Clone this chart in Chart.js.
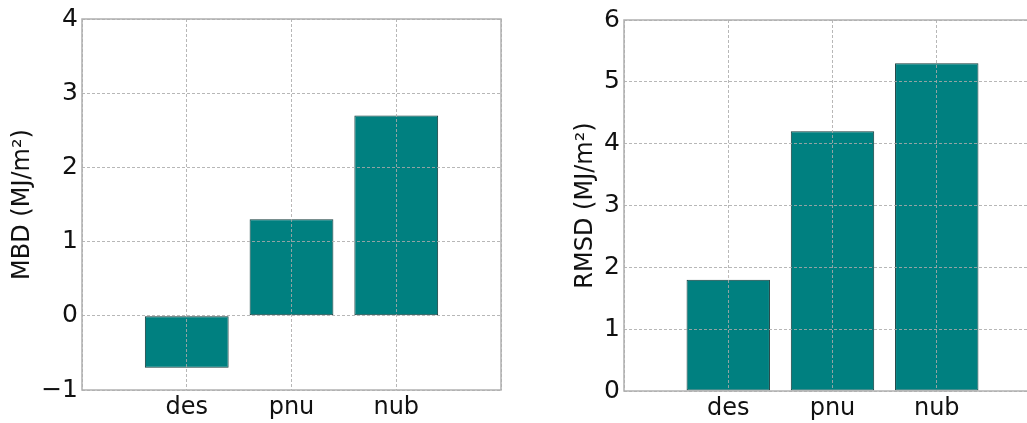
<!DOCTYPE html>
<html>
<head>
<meta charset="utf-8">
<script src="https://cdn.jsdelivr.net/npm/chart.js@4.4.0/dist/chart.umd.min.js"></script>
<style>
  html, body { margin: 0; padding: 0; background: #fff; }
  body { width: 1027px; height: 423px; overflow: hidden; position: relative; }
  .box { position: absolute; top: 0; height: 423px; }
  #leftBox { left: 0; width: 510px; }
  #rightBox { left: 560px; width: 490px; }
</style>
</head>
<body>
<div class="box" id="leftBox"><canvas id="mbdChart"></canvas></div>
<div class="box" id="rightBox"><canvas id="rmsdChart"></canvas></div>
<script>
// data
var categories = ["des", "pnu", "nub"];
var mbdValues = [-0.7, 1.3, 2.7];
var rmsdValues = [1.8, 4.2, 5.3];
var mbdTicks = [-1, 0, 1, 2, 3, 4];
var rmsdTicks = [0, 1, 2, 3, 4, 5, 6];

var barColor = "#008080";
var gridColor = "rgba(170,170,170,0.85)";
var spineColor = "#b0b0b0";
var fontFamily = "'DejaVu Sans', sans-serif";

// empty slot on each side so bars sit one unit in from the frame
var labels = [""].concat(categories, [""]);
function padded(vals) { return [null].concat(vals, [null]); }

// draws the four spines
var frame = {
    id: "frame",
    afterDraw: function(chart) {
        var a = chart.chartArea, ctx = chart.ctx;
        ctx.save();
        ctx.setLineDash([]);
        ctx.strokeStyle = spineColor;
        ctx.lineWidth = 1.5;
        ctx.strokeRect(a.left, a.top, a.right - a.left, a.bottom - a.top);
        ctx.restore();
    }
};

function makeChart(id, values, ticks, title, opt) {
    return new Chart(id, {
        type: "bar",
        data: {
            labels: labels,
            datasets: [{
                data: padded(values),
                backgroundColor: barColor,
                borderColor: "#123a3a",
                borderWidth: 1,
                borderSkipped: false,
                barPercentage: 0.8,
                categoryPercentage: 1
            }]
        },
        options: {
            responsive: true,
            maintainAspectRatio: false,
            animation: false,
            layout: { padding: { top: opt.top, right: 9, left: 0, bottom: 0 } },
            plugins: { legend: { display: false }, tooltip: { enabled: false } },
            scales: {
                x: {
                    offset: false,
                    grid: { offset: false, z: 1, color: gridColor, drawTicks: false, lineWidth: 1 },
                    border: { display: false, dash: [3, 2] },
                    ticks: {
                        color: "#111",
                        padding: 3,
                        maxRotation: 0,
                        font: { family: fontFamily, size: 24 }
                    },
                    afterFit: function(s) { s.height = opt.xh; }
                },
                y: {
                    min: ticks[0],
                    max: ticks[ticks.length - 1],
                    afterBuildTicks: function(s) {
                        s.ticks = ticks.map(function(v) { return { value: v }; });
                    },
                    grid: { z: 1, color: gridColor, drawTicks: false, lineWidth: 1 },
                    border: { display: false, dash: [3, 2] },
                    ticks: {
                        color: "#111",
                        padding: 4,
                        font: { family: fontFamily, size: 25 },
                        callback: function(v) { return v < 0 ? "\u2212" + Math.abs(v) : String(v); }
                    },
                    title: {
                        display: true,
                        text: title,
                        color: "#111",
                        font: { family: fontFamily, size: 24 },
                        padding: { top: opt.tp, bottom: 0 }
                    },
                    afterFit: function(s) { s.width = opt.yw; }
                }
            }
        },
        plugins: [frame]
    });
}

makeChart("mbdChart", mbdValues, mbdTicks, "MBD (MJ/m\u00b2)", { top: 16, xh: 33, yw: 82, tp: 8 });
makeChart("rmsdChart", rmsdValues, rmsdTicks, "RMSD (MJ/m\u00b2)", { top: 20, xh: 32, yw: 64, tp: 11 });
</script>
</body>
</html>
